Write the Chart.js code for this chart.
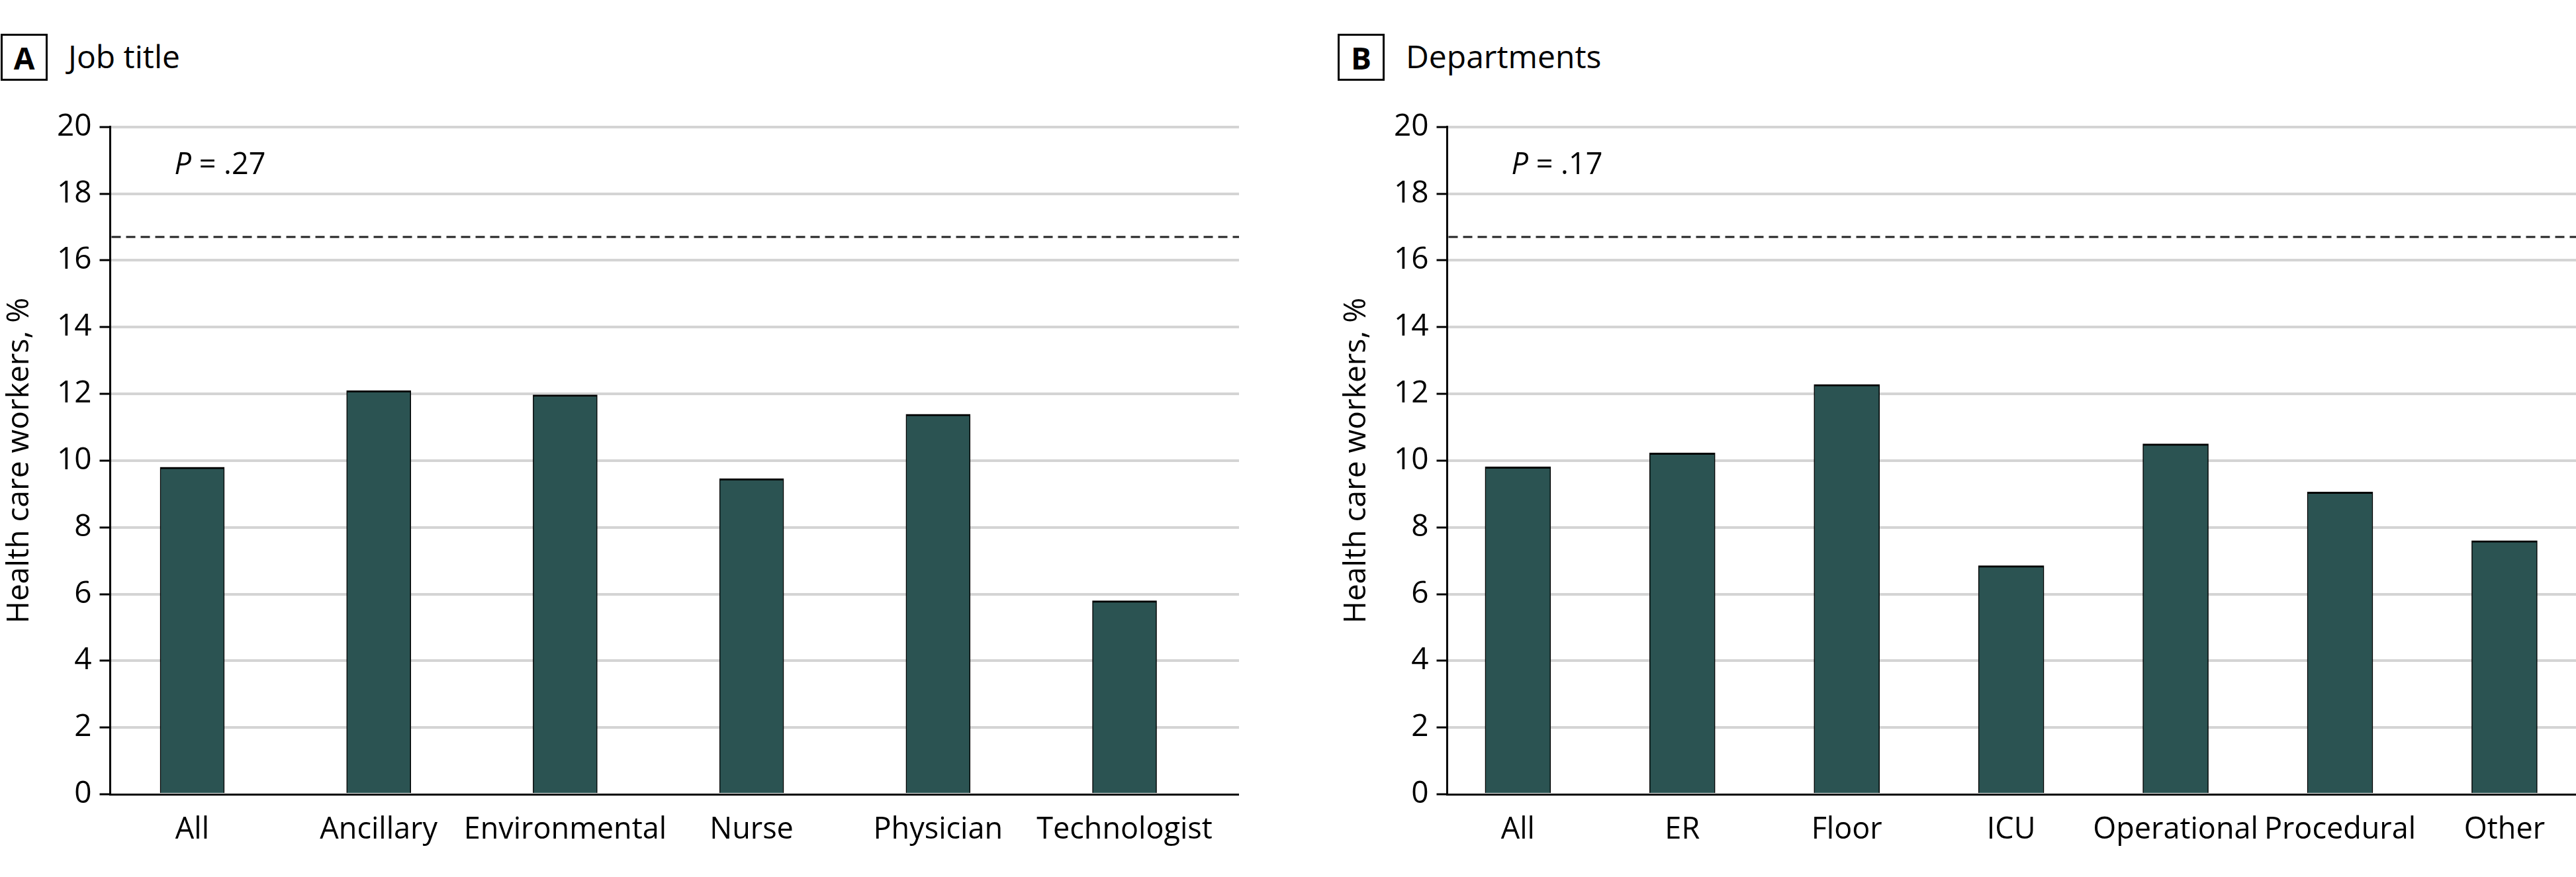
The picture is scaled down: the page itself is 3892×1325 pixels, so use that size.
<!DOCTYPE html>
<html>
<head>
<meta charset="utf-8">
<script src="https://cdn.jsdelivr.net/npm/chart.js@4"></script>
<style>
  html, body { margin: 0; padding: 0; background: #fff; }
  body { width: 3892px; height: 1325px; position: relative; overflow: hidden; font-family: "Open Sans", sans-serif; color: #000; }
  .box { position: absolute; top: 51px; width: 71px; height: 71px; box-sizing: border-box; border: 3px solid #000;
         display: flex; align-items: center; justify-content: center; font-weight: bold; font-size: 46px; line-height: 1; }
  .ttl { position: absolute; top: 61px; font-size: 48px; line-height: 48px; white-space: nowrap; }
  canvas { position: absolute; top: 100px; }
</style>
</head>
<body>
<div class="box" style="left:1px;">A</div>
<div class="ttl" style="left:103px;">Job title</div>
<div class="box" style="left:2021px;">B</div>
<div class="ttl" style="left:2124px;">Departments</div>
<canvas id="cA" width="1872" height="1225" style="left:0px;"></canvas>
<canvas id="cB" width="1872" height="1225" style="left:2020px;"></canvas>
<script>
// ---- data ----
const jobCategories = ["All", "Ancillary", "Environmental", "Nurse", "Physician", "Technologist"];
const jobValues = [9.8, 12.1, 11.97, 9.46, 11.39, 5.8];
const jobPLabel = ".27";

const deptCategories = ["All", "ER", "Floor", "ICU", "Operational", "Procedural", "Other"];
const deptValues = [9.81, 10.23, 12.28, 6.85, 10.5, 9.06, 7.6];
const deptPLabel = ".17";

const referenceLine = 16.7;
const yTicks = [0, 2, 4, 6, 8, 10, 12, 14, 16, 18, 20];
const yAxisTitle = "Health care workers, %";

// ---- style ----
const FONT = '"Open Sans", sans-serif';
const BAR_COLOR = '#2b5352';

function makeChart(id, cats, vals, pLabel, xMin, xMax, barW) {
  const refPlugin = {
    id: 'refAndP',
    beforeDatasetsDraw(chart) {
      const { ctx, chartArea, scales } = chart;
      const y = scales.y.getPixelForValue(referenceLine);
      ctx.save();
      ctx.strokeStyle = '#222';
      ctx.lineWidth = 3;
      ctx.setLineDash([14, 8]);
      ctx.beginPath();
      ctx.moveTo(chartArea.left + 2, y);
      ctx.lineTo(chartArea.right, y);
      ctx.stroke();
      ctx.restore();
    },
    afterDraw(chart) {
      const { ctx, chartArea } = chart;
      ctx.save();
      ctx.fillStyle = '#000';
      ctx.textBaseline = 'alphabetic';
      const x0 = chartArea.left + 97;
      const yb = chartArea.top + 71;
      ctx.font = 'italic 45px ' + FONT;
      ctx.fillText('P', x0, yb);
      const w = ctx.measureText('P').width;
      ctx.font = '45px ' + FONT;
      ctx.fillText(' = ' + pLabel, x0 + w, yb);
      ctx.restore();
    }
  };

  return new Chart(document.getElementById(id), {
    type: 'bar',
    data: {
      datasets: [{
        data: vals.map((v, i) => ({ x: i, y: v })),
        backgroundColor: BAR_COLOR,
        borderColor: '#000',
        borderWidth: { top: 3, left: 1.5, right: 1.5, bottom: 0 },
        borderSkipped: false,
        barThickness: barW
      }]
    },
    options: {
      responsive: false,
      devicePixelRatio: 1,
      animation: false,
      events: [],
      layout: { padding: { top: 91.7, left: 0, right: 0, bottom: 0 } },
      plugins: { legend: { display: false }, tooltip: { enabled: false } },
      scales: {
        x: {
          type: 'linear',
          min: xMin,
          max: xMax,
          offset: false,
          grid: { display: false, drawTicks: false, offset: false },
          border: { display: true, color: '#000', width: 3 },
          afterBuildTicks(scale) { scale.ticks = cats.map((_, i) => ({ value: i })); },
          afterFit(scale) { scale.height = 125; },
          ticks: {
            autoSkip: false,
            maxRotation: 0,
            padding: 27,
            color: '#000',
            font: { family: FONT, size: 45 },
            callback: (v) => cats[v] ?? ''
          }
        },
        y: {
          min: 0,
          max: 20,
          afterBuildTicks(scale) { scale.ticks = yTicks.map(v => ({ value: v })); },
          afterFit(scale) { scale.width = 166.5; },
          grid: {
            color: (c) => (c.tick && c.tick.value === 0) ? 'rgba(0,0,0,0)' : '#d4d4d4',
            lineWidth: 4,
            tickColor: '#000',
            tickWidth: 3,
            tickLength: 16
          },
          border: { display: true, color: '#000', width: 3 },
          ticks: {
            padding: 12,
            color: '#000',
            font: { family: FONT, size: 46 }
          },
          title: {
            display: true,
            text: yAxisTitle,
            color: '#000',
            font: { family: FONT, size: 46 },
            padding: { top: 2, bottom: 0 }
          }
        }
      }
    },
    plugins: [refPlugin]
  });
}

makeChart('cA', jobCategories, jobValues, jobPLabel, -0.44, 5.614, 97);
makeChart('cB', deptCategories, deptValues, deptPLabel, -0.43, 6.435, 99);
</script>
</body>
</html>
